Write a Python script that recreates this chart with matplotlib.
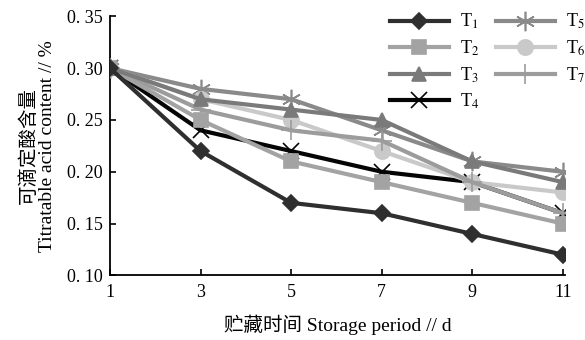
import matplotlib
matplotlib.use("Agg")
import matplotlib.pyplot as plt
from matplotlib.ticker import FuncFormatter

plt.rcParams['font.family'] = ['Liberation Serif', 'Noto Sans CJK SC', 'DejaVu Sans']
plt.rcParams['mathtext.fontset'] = 'stix'

# storage days
days = [1, 3, 5, 7, 9, 11]

# titratable acid content (%) per treatment
t1 = [0.30, 0.22, 0.17, 0.16, 0.14, 0.12]
t2 = [0.30, 0.25, 0.21, 0.19, 0.17, 0.15]
t3 = [0.30, 0.27, 0.26, 0.25, 0.21, 0.19]
t4 = [0.30, 0.24, 0.22, 0.20, 0.19, 0.16]
t5 = [0.30, 0.28, 0.27, 0.24, 0.21, 0.20]
t6 = [0.30, 0.27, 0.25, 0.22, 0.19, 0.18]
t7 = [0.30, 0.26, 0.24, 0.23, 0.19, 0.16]

labels = ['T$_1$', 'T$_2$', 'T$_3$', 'T$_4$', 'T$_5$', 'T$_6$', 'T$_7$']
series = [t1, t2, t3, t4, t5, t6, t7]
colors = ['#2f2f2f', '#a3a3a3', '#7a7a7a', '#050505', '#8a8a8a', '#c9c9c9', '#9c9c9c']
markers = ['D', 's', '^', 'x', (6, 2, 0), 'o', '+']
msizes = [8, 10, 10, 12, 14, 11, 14]
zorders = [5, 4, 4, 1, 3, 3, 3]

fig = plt.figure(figsize=(5.85, 3.4), dpi=100)
ax = fig.add_axes([0.188, 0.19, 0.778, 0.762])

for vals, lab, c, m, ms, z in zip(series, labels, colors, markers, msizes, zorders):
    ax.plot(days, vals, color=c, marker=m, markersize=ms, linewidth=3,
            markeredgewidth=1.2, markeredgecolor=c, label=lab, zorder=z)

ax.set_xlim(1, 11.05)
ax.set_ylim(0.10, 0.35)
ax.set_xticks(days)
ax.set_yticks([0.10, 0.15, 0.20, 0.25, 0.30, 0.35])
ax.yaxis.set_major_formatter(FuncFormatter(lambda v, p: '0. %02d' % round(v * 100)))
ax.tick_params(direction='in', labelsize=13, length=4, width=1.2)
ax.tick_params(axis='y', pad=5)
ax.tick_params(axis='x', pad=6)
for s in ['top', 'right']:
    ax.spines[s].set_visible(False)
for s in ['left', 'bottom']:
    ax.spines[s].set_linewidth(1.3)

ax.set_xlabel('贮藏时间 Storage period // d', fontsize=14, labelpad=10)
ax.set_ylabel('可滴定酸含量\nTitratable acid content // %', fontsize=14,
              linespacing=1.1, labelpad=8)

leg = ax.legend(ncol=2, loc='upper right', bbox_to_anchor=(1.06, 1.045), frameon=False,
                fontsize=13, handlelength=3.3, columnspacing=0.9, labelspacing=0.4,
                handletextpad=0.6, borderaxespad=0)

fig.savefig('out.png', dpi=100)
